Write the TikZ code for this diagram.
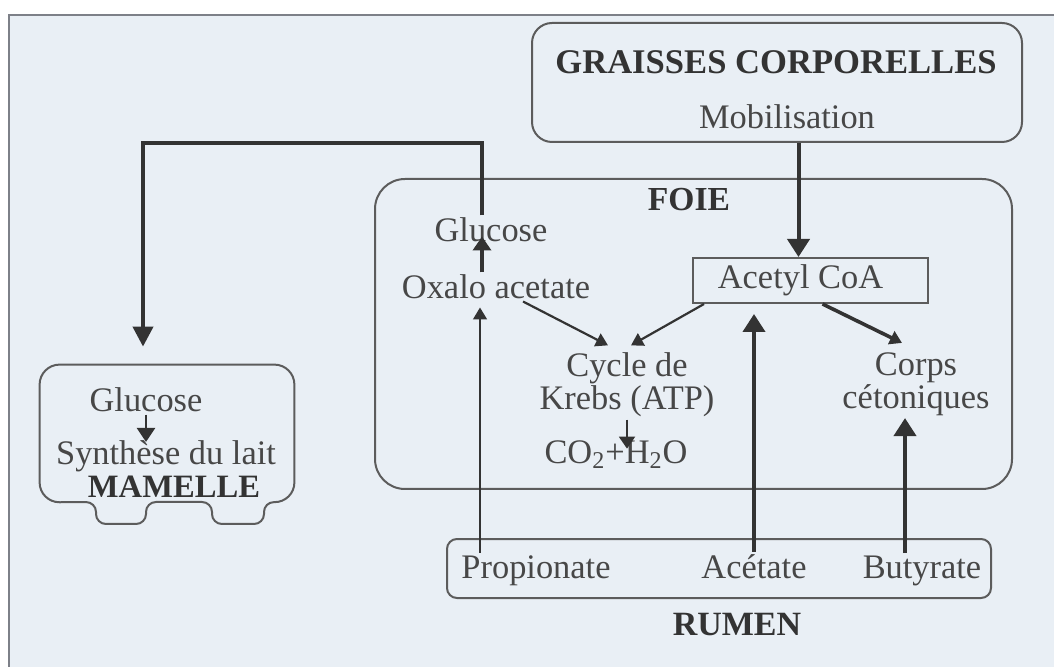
\documentclass[tikz,border=0pt]{standalone}
\usepackage{fontspec}
\setmainfont{Liberation Serif}
\usetikzlibrary{arrows.meta}
\definecolor{paper}{HTML}{E9EFF5}
\definecolor{ink}{HTML}{333333}
\definecolor{frameline}{HTML}{5C5C5C}
\definecolor{scanedge}{HTML}{7D8088}

\begin{document}
\begin{tikzpicture}[x=0.5pt, y=-0.5pt,
    frame/.style={draw=frameline, line width=1pt, rounded corners=#1},
    frame/.default=10pt,
    lbl/.style={font=\fontsize{17.2}{14.5}\selectfont, text=ink!90, inner sep=1pt, align=center},
    head/.style={font=\fontsize{#1}{16}\selectfont\bfseries, text=ink, inner sep=1pt},
    arr/.style={-{Triangle[length=9pt, width=11pt]}, line width=2pt, draw=ink},
    midarr/.style={-{Triangle[length=7pt, width=9pt]}, line width=2pt, draw=ink},
    thinarr/.style={-{Triangle[length=6pt, width=7pt]}, line width=#1, draw=ink},
    thinarr/.default=1.1pt,
]
    \useasboundingbox (0,0) rectangle (1054,667);
    \fill[white] (0,0) rectangle (1054,667);
    \fill[paper] (9,15) rectangle (1054,667);
    \draw[scanedge, line width=1.2pt] (9,667) -- (9,15) -- (1054,15);

    % graisses corporelles
    \node[frame, minimum width=245pt, minimum height=59.5pt] (gc) at (777,82.5) {};
    \node[head=17.3] (gctitle) at (776,62) {GRAISSES CORPORELLES};
    \node[lbl] (mobil) at (787,117) {Mobilisation};

    % foie
    \node[frame=15pt, minimum width=318.5pt, minimum height=155pt] (foie) at (693.5,334) {};
    \node[head=16.8] (foietitle) at (689,200) {FOIE};
    \node[lbl] (glcF) at (491,230) {Glucose};
    \node[lbl] (oxalo) at (496,287) {Oxalo acetate};
    \node[lbl, draw=frameline, line width=1pt, minimum width=117.5pt, minimum height=22.5pt] (acetyl) at (810.5,280.5) {Acetyl CoA\hspace{10pt}};
    \node[lbl] (krebs) at (627,385) {Cycle de\\Krebs (ATP)};
    \node[lbl] (co2) at (616,455) {CO\textsubscript{2}+H\textsubscript{2}O};
    \node[lbl] (corps) at (916,384) {Corps\\cétoniques};

    % rumen
    \node[frame=5pt, minimum width=272pt, minimum height=29.5pt] (rumen) at (719,568.5) {};
    \node[lbl, anchor=base] (propio) at (536,578) {Propionate};
    \node[lbl, anchor=base] (acetate) at (754,578) {Acétate};
    \node[lbl, anchor=base] (butyr) at (922,578) {Butyrate};
    \node[head=17] (rumentitle) at (737,625) {RUMEN};

    % mamelle
    \node[minimum width=127pt, minimum height=68.5pt, inner sep=0pt] (mamelle) at (167,433.5) {};
    \draw[frameline, line width=1pt, rounded corners=10pt] (mamelle.west) -- (mamelle.north west) -- (mamelle.north east) -- (mamelle.south east)
        [rounded corners=5pt] -- (264,502) -- (264,524) -- (212,524) -- (212,502) -- (146,502) -- (146,524) -- (96,524) -- (96,502)
        [rounded corners=10pt] -- (mamelle.south west) -- cycle;
    \node[lbl] (glcM) at (146,400) {Glucose};
    \node[lbl] (synth) at (166,456) {Synthèse du lait};
    \node[head=16.3] (mamtitle) at (174,487) {MAMELLE};

    % connectors
    \coordinate (gx) at ([xshift=-4.5pt]glcF.north);
    \coordinate (bend) at (143,143);
    \draw[arr, -{Triangle[length=10pt, width=10pt]}, shorten >=9pt] (gx) |- (bend) -- (bend |- mamelle.north);
    \draw[midarr, shorten >=-4pt] (gx |- oxalo.north) -- (gx |- glcF.south);

    \coordinate (mx) at ([xshift=-6pt]acetyl.north);
    \draw[arr] (mx |- gc.south) -- (mx);

    \coordinate (px) at ([xshift=-28pt]propio.north);
    \draw[thinarr=0.8pt, shorten >=3pt] (px) -- (px |- oxalo.south);
    \draw[arr, shorten >=5pt] (acetate.north) -- (acetate.north |- acetyl.south);
    \coordinate (bx) at ([xshift=-8.5pt]butyr.north);
    \draw[arr] (bx) -- (bx |- corps.south);

    \draw[thinarr] ([xshift=13.5pt]oxalo.south) -- ([xshift=-9.5pt, yshift=2.5pt]krebs.north);
    \draw[thinarr] ([xshift=6pt]acetyl.south west) -- ([xshift=2pt, yshift=2.5pt]krebs.north);
    \draw[thinarr=1.8pt] ([xshift=6pt]acetyl.south) -- ([xshift=-7pt, yshift=3.5pt]corps.north);
    \draw[thinarr=1pt, -{Triangle[length=6pt, width=8pt]}, shorten >=-5pt] (krebs.south) -- (krebs.south |- co2.north);
    \draw[midarr, line width=1.4pt, shorten >=-2pt] (glcM.south) -- (glcM.south |- synth.north);
\end{tikzpicture}
\end{document}
